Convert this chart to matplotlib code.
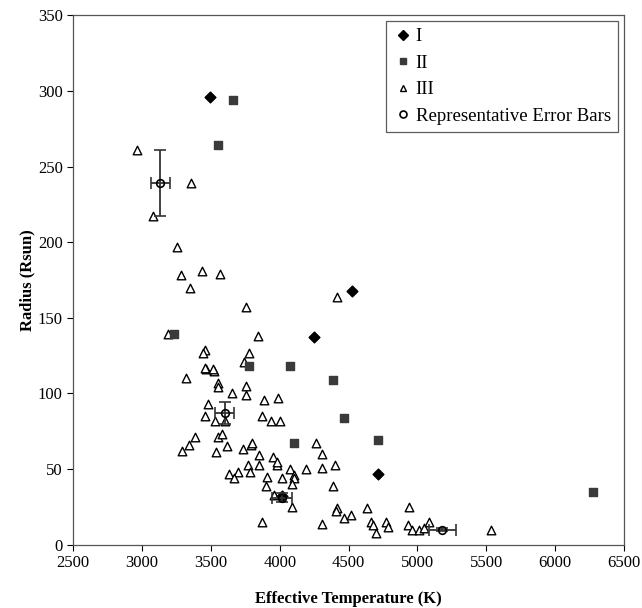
import matplotlib.pyplot as plt
from matplotlib.lines import Line2D

plt.rcParams['font.family'] = 'Liberation Serif'

# Class I (diamonds)
teff_1 = [3495, 4528, 4247, 4712, 4015]
rad_1 = [296, 168, 137, 47, 32]

# Class II (squares)
teff_2 = [3664, 3548, 3231, 3777, 4075, 4385, 4463, 4710, 4106, 6275]
rad_2 = [294, 264, 139, 118, 118, 109, 84, 69, 67, 35]

# Class III (open triangles)
teff_3 = [2967, 3076, 3359, 3253, 3437, 3565, 3281, 3347, 3756, 3190,
          3843, 3457, 3446, 3780, 3740, 3465, 3521, 3455, 3515, 3320,
          3548, 3552, 3756, 4414, 3650, 3756, 3887, 3988, 3477, 3458,
          3529, 3601, 3870, 3935, 4003, 4260, 3384, 3338, 3287, 3555,
          3582, 3618, 3538, 3734, 3790, 3795, 3846, 3950, 3977, 3982,
          3773, 3846, 4078, 4194, 4100, 4106, 4090, 3630, 3696, 3669,
          3785, 3908, 3899, 4017, 3957, 4090, 3870, 4308, 4308, 4401,
          4390, 4414, 4412, 4467, 4521, 4632, 4942, 4308, 4666, 4680,
          4700, 4775, 4788, 4932, 4960, 5010, 5050, 5087, 5532]
rad_3 = [261, 217, 239, 197, 181, 179, 178, 170, 157, 139,
         138, 129, 127, 127, 121, 116, 115, 117, 116, 110,
         107, 104, 105, 164, 100, 99, 96, 97, 93, 85,
         82, 82, 85, 82, 82, 67, 71, 66, 62, 71,
         73, 65, 61, 63, 66, 67, 59, 58, 53, 55,
         53, 53, 50, 50, 46, 44, 40, 47, 48, 44,
         48, 45, 39, 44, 33, 25, 15, 60, 51, 53,
         39, 24, 22, 18, 20, 24, 25, 14, 15, 13,
         8, 15, 12, 13, 10, 10, 11, 15, 10]

# Representative error bars
teff_err = [3134, 3601, 4017, 5181]
rad_err = [239, 87, 31, 10]
teff_unc = [67, 70, 75, 100]
rad_unc = [22, 7.4, 3, 1]

fig = plt.figure(figsize=(6.42, 6.08), dpi=100)
ax = fig.add_axes([0.114, 0.104, 0.858, 0.871])

ax.scatter(teff_3, rad_3, marker='^', s=38, facecolors='white',
           edgecolors='black', linewidths=1.0, zorder=3)
ax.scatter(teff_2, rad_2, marker='s', s=30, color='#3a3a3a', zorder=4)
ax.scatter(teff_1, rad_1, marker='D', s=30, color='black', zorder=5)
ax.errorbar(teff_err, rad_err, xerr=teff_unc, yerr=rad_unc, fmt='o',
            mfc='none', mec='black', ms=5.5, mew=1.2, ecolor='#333333',
            elinewidth=1.3, capsize=4, capthick=1.3, zorder=6)

ax.set_xlim(2500, 6500)
ax.set_ylim(0, 350)
ax.set_xticks(range(2500, 6501, 500))
ax.set_yticks(range(0, 351, 50))
ax.tick_params(direction='out', length=4, width=0.8, labelsize=12,
               colors='black')
for s in ax.spines.values():
    s.set_color('#555555')
    s.set_linewidth(0.9)

ax.set_xlabel('Effective Temperature (K)', fontsize=12, fontweight='bold',
              labelpad=14)
ax.set_ylabel('Radius (Rsun)', fontsize=12, fontweight='bold', labelpad=2)

handles = [
    Line2D([], [], marker='D', color='black', ls='none', ms=5),
    Line2D([], [], marker='s', color='#3a3a3a', ls='none', ms=5),
    Line2D([], [], marker='^', mfc='white', mec='black', ls='none', ms=5),
    Line2D([], [], marker='o', mfc='white', mec='black', mew=1.2, ls='none', ms=5),
]
leg = ax.legend(handles, ['I', 'II', 'III', 'Representative Error Bars'],
                loc='upper right', fontsize=13.5, frameon=True, fancybox=False,
                borderpad=0.4, labelspacing=0.5, handletextpad=0.2,
                handlelength=1.0, borderaxespad=0.3)
leg.get_frame().set_edgecolor('#333333')
leg.get_frame().set_linewidth(0.9)

fig.savefig('out.png', dpi=100)
